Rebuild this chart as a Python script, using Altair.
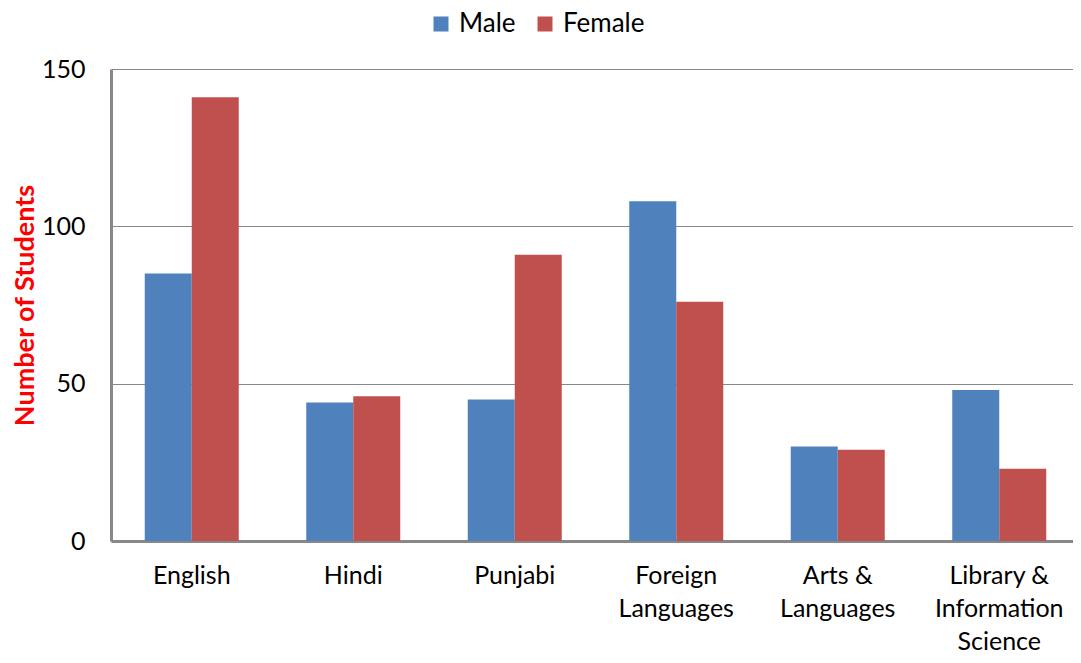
import altair as alt
import pandas as pd

categories = ["English", "Hindi", "Punjabi", "Foreign\nLanguages", "Arts &\nLanguages", "Library &\nInformation\nScience"]
male = [85, 44, 45, 108, 30, 48]
female = [141, 46, 91, 76, 29, 23]
series = ["Male", "Female"]
colors = ["#4F81BD", "#C0504D"]

rows = []
for c, m, f in zip(categories, male, female):
    rows.append({"cat": c, "sex": "Male", "val": m})
    rows.append({"cat": c, "sex": "Female", "val": f})
df = pd.DataFrame(rows)

FONT = "Lato"

chart = alt.Chart(df).mark_bar().encode(
    x=alt.X("cat:N", sort=categories,
            scale=alt.Scale(paddingInner=0.418, paddingOuter=0.209, range=[0, 969]),
            axis=alt.Axis(title=None, labelAngle=0, labelExpr="split(datum.label, '\\n')",
                          labelFontSize=25, labelFont=FONT, labelColor="#000000",
                          labelPadding=22, labelLineHeight=33, labelBaseline="top",
                          ticks=False, domainColor="#888888", domainWidth=3,
                          labelLimit=300)),
    xOffset=alt.XOffset("sex:N", sort=series, scale=alt.Scale(paddingInner=0, paddingOuter=0)),
    y=alt.Y("val:Q", scale=alt.Scale(domain=[0, 150], nice=False),
            axis=alt.Axis(title="Number of Students", values=[0, 50, 100, 150],
                          titleColor="#FF0000", titleFont=FONT, titleFontSize=27, titleFontWeight="bold",
                          titleAngle=-90, titleX=-86, titleY=236, titleAlign="center", titleBaseline="middle",
                          labelFontSize=25, labelFont=FONT, labelColor="#000000", labelPadding=26,
                          ticks=False, domainColor="#888888", domainWidth=3,
                          grid=True, gridColor="#888888", gridWidth=1)),
    color=alt.Color("sex:N", sort=series, scale=alt.Scale(domain=series, range=colors),
                    legend=alt.Legend(title=None, orient="none", direction="horizontal",
                                      legendX=317, legendY=-58, symbolType="square", symbolSize=225,
                                      symbolStrokeWidth=0, symbolOpacity=1, labelFontSize=26, labelFont=FONT,
                                      labelColor="#000000", labelOffset=5, columnPadding=16)),
).properties(
    width=962, height=472,
    autosize=alt.AutoSizeParams(type="none"),
    padding={"left": 103, "top": 61, "right": 0, "bottom": 112},
).configure_view(stroke=None).configure_bar(opacity=1)

chart.save("out.html", embed_options={"renderer": "svg", "actions": False})
